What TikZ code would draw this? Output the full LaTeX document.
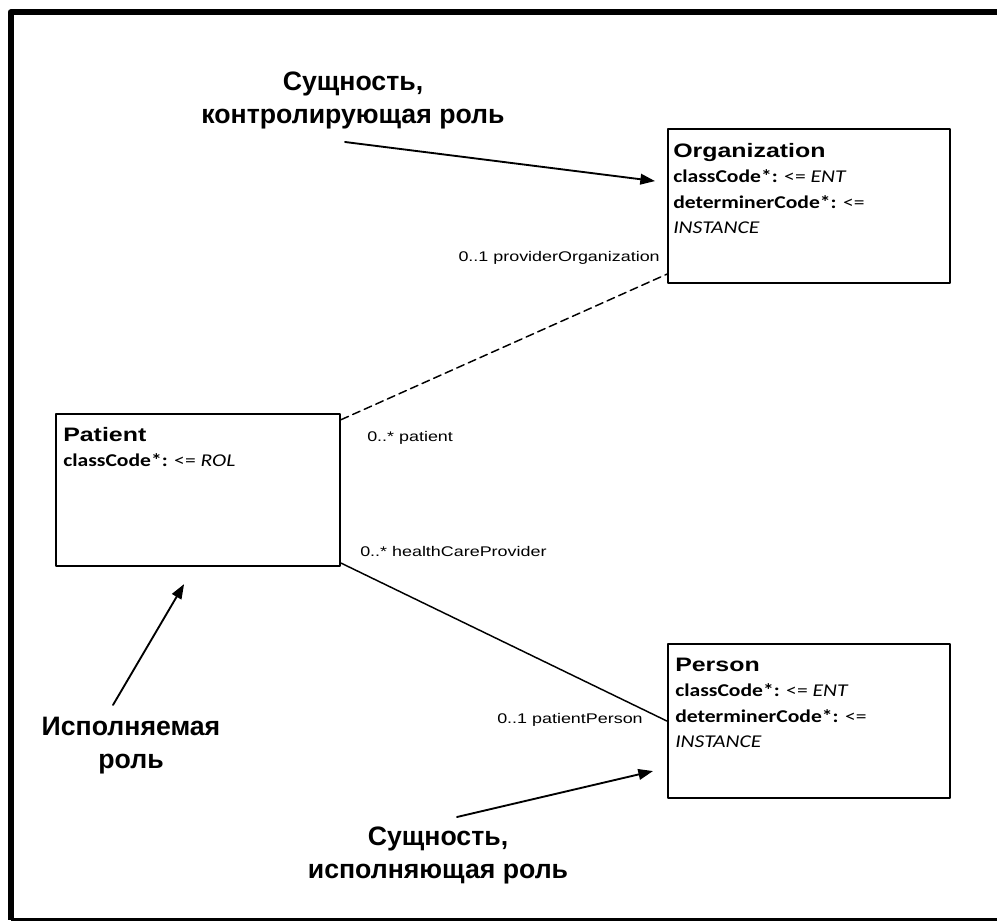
\documentclass[tikz,border=0pt]{standalone}
\usepackage{fontspec}
\setmainfont{Liberation Sans}
\newfontfamily\umlfont[FakeStretch=1.28]{Liberation Sans}
\newfontfamily\attrfont[FakeStretch=1.2]{Carlito}
\usetikzlibrary{arrows.meta,calc}

\begin{document}
\begin{tikzpicture}[x=0.75pt, y=-0.75pt, >={Triangle[length=11pt,width=8pt]},
  line cap=round, line join=round,
  cls/.style={draw, line width=1.6pt, anchor=north west, inner sep=0pt,
    minimum width=211.5pt, minimum height=115.5pt},
  clstxt/.style={anchor=north west, inner sep=0pt, align=left,
    font=\attrfont\fontsize{13.5}{19}\selectfont},
  role/.style={inner sep=0pt, font=\umlfont\fontsize{10.5}{12}\selectfont},
  note/.style={align=center, inner sep=0pt, font=\bfseries\fontsize{20}{24.75}\selectfont},
  pointer/.style={->, line width=1.4pt}]

\useasboundingbox (0,0) rectangle (997,923);
\clip (0,0) rectangle (997,923);

% ---------- Frame ----------
\draw[line width=4.5pt, line cap=butt] (1005,12.5) -| (10.5,919.5);
\draw[line width=2.2pt, line cap=butt] (10.5,919.5) -- (1005,919.5);

% ---------- Classes ----------
\node[cls] (org) at (667,128) {};
\node[clstxt] (orgtxt) at (673,143)
  {{\umlfont\bfseries\fontsize{14.6}{19}\selectfont Organization}\\
   \textbf{classCode*:} <= \textit{ENT}\\
   \textbf{determinerCode*:} <=\\
   \textit{INSTANCE}};

\node[cls, minimum width=213pt, minimum height=114pt] (pat) at (55,413) {};
\node[clstxt] (pattxt) at (63,427)
  {{\umlfont\bfseries\fontsize{14.6}{19}\selectfont Patient}\\
   \textbf{classCode*:} <= \textit{ROL}};

\node[cls] (pers) at (667,643) {};
\node[clstxt] (perstxt) at (675,658)
  {{\umlfont\bfseries\fontsize{14.6}{19}\selectfont Person}\\
   \textbf{classCode*:} <= \textit{ENT}\\
   \textbf{determinerCode*:} <=\\
   \textit{INSTANCE}};

% ---------- Associations ----------
\draw[line width=1.1pt, dash pattern=on 6pt off 3.5pt]
  ([yshift=-5pt]pat.north east) -- ([yshift=7.5pt]org.south west);
\draw[line width=1.1pt] ([yshift=3pt]pat.south east) -- (pers.west);

\node[role, anchor=base east] (orgrole) at (660,262) {0..1 providerOrganization};
\node[role, anchor=base west] (patrole) at (367,442) {0..* patient};
\node[role, anchor=base west] (hcprole) at (360,557) {0..* healthCareProvider};
\node[role, anchor=base east] (persrole) at (643,723) {0..1 patientPerson};

% ---------- Notes ----------
\node[note] (ctrl) at (353,100) {Сущность,\\контролирующая роль};
\coordinate (ctrlA) at (345,142);
\draw[pointer] (ctrlA) -- ($(org.west)+(-12,-25)$);

\node[note] (exec) at (131,746) {Исполняемая\\роль};
\coordinate (execA) at (113,705);
\draw[pointer] (execA) -- ($(pat.south)+(-14,17)$);

\node[note] (perf) at (438,855) {Сущность,\\исполняющая роль};
\coordinate (perfA) at (457,817);
\draw[pointer] (perfA) -- ($(pers.west)+(-14,50)$);

\end{tikzpicture}
\end{document}
